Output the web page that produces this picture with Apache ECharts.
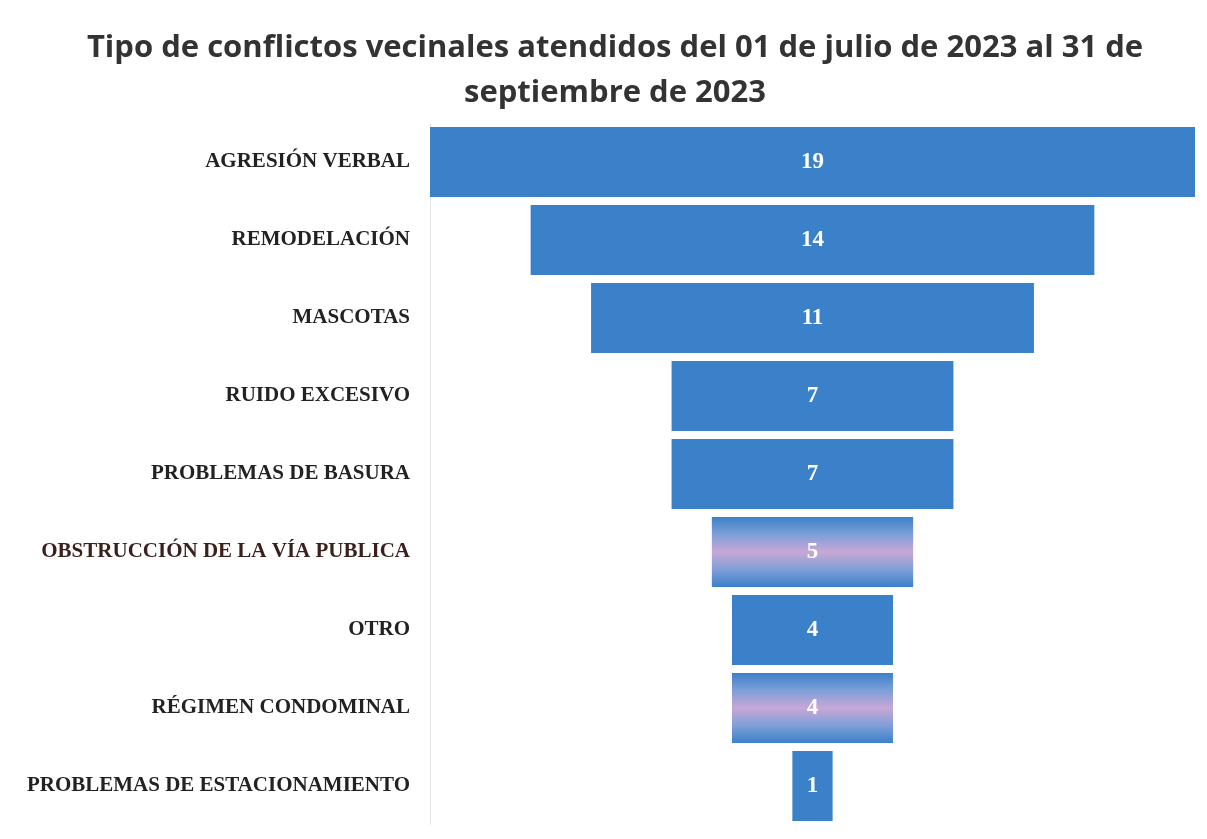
<!DOCTYPE html>
<html>
<head>
<meta charset="utf-8">
<script src="https://cdn.jsdelivr.net/npm/echarts@6/dist/echarts.min.js"></script>
<style>
    html, body { margin: 0; padding: 0; background: #fff; }
    #chart { width: 1207px; height: 839px; }
</style>
</head>
<body>
<div id="chart"></div>
<script>
// tipos de conflicto, de mayor a menor
const categories = [
    'AGRESIÓN VERBAL',
    'REMODELACIÓN',
    'MASCOTAS',
    'RUIDO EXCESIVO',
    'PROBLEMAS DE BASURA',
    'OBSTRUCCIÓN DE LA VÍA PUBLICA',
    'OTRO',
    'RÉGIMEN CONDOMINAL',
    'PROBLEMAS DE ESTACIONAMIENTO'
]
const values = [19, 14, 11, 7, 7, 5, 4, 4, 1]

const maxValue = Math.max(...values)
// hueco invisible para centrar cada barra
const offsets = values.map(v => (maxValue - v) / 2)

// barras con el tono rosado del escaneo
const pinkBars = [5, 7]
const blue = '#3a81c9'
const pinkGradient = new echarts.graphic.LinearGradient(0, 0, 0, 1, [
    { offset: 0, color: '#3a81c9' },
    { offset: 0.25, color: '#7f9fd8' },
    { offset: 0.5, color: '#c8a7d6' },
    { offset: 0.75, color: '#7f9fd8' },
    { offset: 1, color: '#3a81c9' }
])

const chart = echarts.init(document.getElementById('chart'))

chart.setOption({
    animation: false,
    title: {
        text: 'Tipo de conflictos vecinales atendidos del 01 de julio de 2023 al 31 de\nseptiembre de 2023',
        left: 610,
        top: 21,
        textAlign: 'center',
        textStyle: {
            fontFamily: '"Open Sans", sans-serif',
            fontSize: 31,
            fontWeight: 'bold',
            color: '#333',
            lineHeight: 45
        }
    },
    grid: {
        left: 430,
        right: 12,
        top: 123,
        bottom: 14
    },
    xAxis: {
        type: 'value',
        min: 0,
        max: maxValue,
        show: false
    },
    yAxis: {
        type: 'category',
        inverse: true,
        data: categories,
        axisTick: { show: false },
        axisLine: { show: true, lineStyle: { color: '#e8e8e8', width: 1 } },
        axisLabel: {
            margin: 20,
            fontFamily: '"Liberation Serif", "DejaVu Serif", serif',
            fontWeight: 'bold',
            fontSize: 21,
            color: '#222',
            formatter: (v, i) => i === 5 ? '{d|' + v + '}' : v,
            rich: {
                d: {
                    fontFamily: '"Liberation Serif", "DejaVu Serif", serif',
                    fontWeight: 'bold',
                    fontSize: 21,
                    color: '#3a1f1a'
                }
            }
        }
    },
    series: [
        {
            type: 'bar',
            stack: 'funnel',
            silent: true,
            itemStyle: { color: 'transparent' },
            data: offsets
        },
        {
            type: 'bar',
            stack: 'funnel',
            barCategoryGap: '10%',
            data: values.map((v, i) => ({
                value: v,
                itemStyle: { color: pinkBars.includes(i) ? pinkGradient : blue }
            })),
            label: {
                show: true,
                position: 'inside',
                color: '#fff',
                fontFamily: '"Liberation Serif", "DejaVu Serif", serif',
                fontWeight: 'bold',
                fontSize: 23
            }
        }
    ]
})
</script>
</body>
</html>
